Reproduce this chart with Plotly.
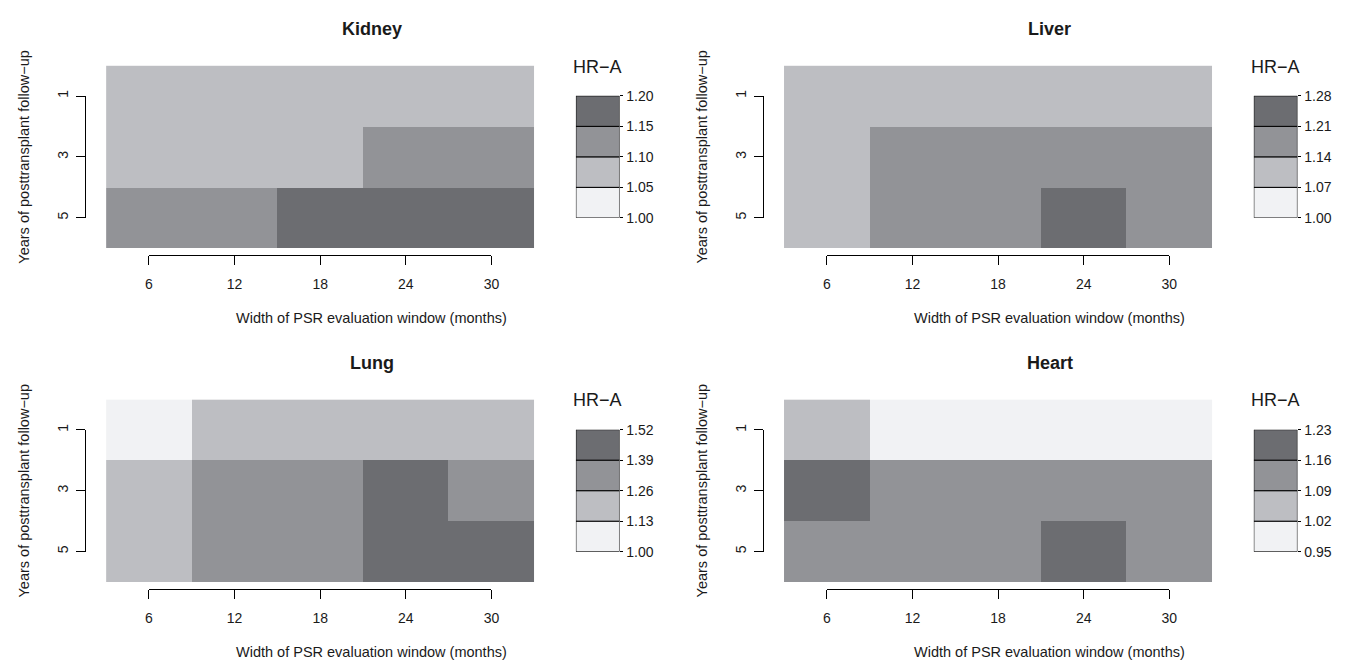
import plotly.graph_objects as go

# ---------------- data ----------------
months = [6, 12, 18, 24, 30]
years = [1, 3, 5]
month_labels = ["6", "12", "18", "24", "30"]
year_labels = ["1", "3", "5"]

organs = ["Kidney", "Liver", "Lung", "Heart"]

kidney_hr = [
    [1.07, 1.08, 1.08, 1.09, 1.08],
    [1.07, 1.08, 1.09, 1.12, 1.13],
    [1.12, 1.14, 1.17, 1.18, 1.19],
]
liver_hr = [
    [1.10, 1.11, 1.12, 1.12, 1.12],
    [1.12, 1.16, 1.17, 1.18, 1.18],
    [1.13, 1.18, 1.19, 1.23, 1.20],
]
lung_hr = [
    [1.05, 1.18, 1.20, 1.20, 1.22],
    [1.20, 1.30, 1.33, 1.45, 1.36],
    [1.22, 1.32, 1.35, 1.48, 1.42],
]
heart_hr = [
    [1.05, 0.99, 0.98, 0.98, 0.99],
    [1.18, 1.12, 1.13, 1.14, 1.14],
    [1.12, 1.13, 1.14, 1.19, 1.15],
]

kidney_breaks = [1.00, 1.05, 1.10, 1.15, 1.20]
liver_breaks = [1.00, 1.07, 1.14, 1.21, 1.28]
lung_breaks = [1.00, 1.13, 1.26, 1.39, 1.52]
heart_breaks = [0.95, 1.02, 1.09, 1.16, 1.23]

palette = ["#F1F2F4", "#BDBEC2", "#929397", "#6C6D71"]

x_title = "Width of PSR evaluation window (months)"
y_title = "Years of posttransplant follow\u2212up"
legend_title = "HR\u2212A"

# ---------------- layout helpers ----------------
W, H = 1352, 669
FONT = "Liberation Sans, Arial, sans-serif"
TXT = "#1a1a1a"

panels = list(zip(organs, [kidney_hr, liver_hr, lung_hr, heart_hr],
                  [kidney_breaks, liver_breaks, lung_breaks, heart_breaks]))

fig = go.Figure()
layout = dict(
    width=W, height=H, autosize=False,
    margin=dict(l=0, r=0, t=0, b=0),
    paper_bgcolor="white", plot_bgcolor="rgba(0,0,0,0)",
    showlegend=False,
    font=dict(family=FONT, color=TXT, size=14),
    annotations=[],
)


def ax_name(kind, k):
    return f"{kind}axis" if k == 1 else f"{kind}axis{k}"


def ref(kind, k):
    return kind if k == 1 else f"{kind}{k}"


HEAT_W, HEAT_H = 432, 187
for i, (name, z, breaks) in enumerate(panels):
    col, row = i % 2, i // 2
    hx0 = [103, 787][col]
    hy0 = [59, 401][row]
    hx1, hy1 = hx0 + HEAT_W, hy0 + HEAT_H
    k = 3 * i + 1
    kt, kl = k + 1, k + 2

    n = len(palette)
    cs = []
    for j, c in enumerate(palette):
        cs.append([j / n, c])
        cs.append([(j + 1) / n, c])

    # heatmap
    fig.add_trace(go.Heatmap(
        x=months, y=years, z=z, zmin=breaks[0], zmax=breaks[-1],
        colorscale=cs, showscale=False, hoverinfo="skip",
        xaxis=ref("x", k), yaxis=ref("y", k)))
    layout[ax_name("x", k)] = dict(domain=[hx0 / W, hx1 / W], range=[3, 33],
                                    visible=False, anchor=ref("y", k))
    layout[ax_name("y", k)] = dict(domain=[1 - hy1 / H, 1 - hy0 / H], range=[6, 0],
                                    visible=False, anchor=ref("x", k))

    # R-style detached axes
    cw = HEAT_W / len(months)
    rh = HEAT_H / len(years)
    fig.add_trace(go.Scatter(
        x=[months[0], months[-1]], y=[years[0], years[-1]], mode="markers",
        marker=dict(opacity=0), hoverinfo="skip",
        xaxis=ref("x", kt), yaxis=ref("y", kt)))
    layout[ax_name("x", kt)] = dict(
        domain=[(hx0 + cw / 2) / W, (hx1 - cw / 2) / W], range=[months[0], months[-1]],
        anchor="free", position=1 - (hy1 + 7) / H,
        tickvals=months, ticktext=month_labels, ticks="outside", ticklen=9,
        tickwidth=1, tickcolor="black", showline=True, linecolor="black",
        linewidth=1, showgrid=False, zeroline=False, ticklabelstandoff=7,
        tickfont=dict(size=14, family=FONT, color=TXT))
    layout[ax_name("y", kt)] = dict(
        domain=[1 - (hy1 - rh / 2) / H, 1 - (hy0 + rh / 2) / H], range=[years[-1], years[0]],
        anchor="free", position=(hx0 - 21) / W, side="left",
        tickvals=years, ticktext=year_labels, tickangle=-90, ticks="outside",
        ticklen=9, tickwidth=1, tickcolor="black", showline=True,
        linecolor="black", linewidth=1, showgrid=False, zeroline=False,
        ticklabelstandoff=3,
        tickfont=dict(size=14, family=FONT, color=TXT))

    # legend (colour key)
    lx0 = hx1 + 42
    lx1 = lx0 + 44
    ly0 = hy0 + 31
    ly1 = ly0 + 125
    fig.add_trace(go.Bar(
        x=[0] * n, base=breaks[:-1],
        y=[breaks[j + 1] - breaks[j] for j in range(n)],
        width=[1] * n, marker=dict(color=palette, line=dict(color="black", width=1)),
        cliponaxis=False, hoverinfo="skip",
        xaxis=ref("x", kl), yaxis=ref("y", kl)))
    layout[ax_name("x", kl)] = dict(domain=[lx0 / W, lx1 / W], range=[-0.5, 0.5],
                                     visible=False, anchor=ref("y", kl))
    layout[ax_name("y", kl)] = dict(
        domain=[1 - ly1 / H, 1 - ly0 / H], range=[breaks[0], breaks[-1]],
        anchor=ref("x", kl), side="right", tickvals=breaks,
        ticktext=[f"{b:.2f}" for b in breaks], ticks="outside", ticklen=3,
        tickwidth=1, tickcolor="black", showline=False, showgrid=False,
        zeroline=False, tickfont=dict(size=14, family=FONT, color=TXT))

    # texts
    title_cx = hx0 + 268
    layout["annotations"] += [
        dict(text=f"<b>{name}</b>", x=title_cx / W, y=1 - (hy0 - 37) / H,
             xref="paper", yref="paper", showarrow=False, xanchor="center",
             yanchor="middle", font=dict(size=18, family=FONT, color=TXT)),
        dict(text=legend_title, x=(lx0 + lx1) / 2 / W, y=1 - (hy0 + 1) / H,
             xref="paper", yref="paper", showarrow=False, xanchor="center",
             yanchor="middle", font=dict(size=18, family=FONT, color=TXT)),
        dict(text=x_title, x=title_cx / W, y=1 - (hy1 + 72) / H,
             xref="paper", yref="paper", showarrow=False, xanchor="center",
             yanchor="middle", font=dict(size=14.5, family=FONT, color=TXT)),
        dict(text=y_title, x=(hx0 - 83) / W, y=1 - (hy0 + hy1) / 2 / H,
             xref="paper", yref="paper", showarrow=False, xanchor="center",
             yanchor="middle", textangle=-90,
             font=dict(size=14.5, family=FONT, color=TXT)),
    ]

fig.update_layout(**layout)
fig.write_html(
    "out.html",
    config={"displayModeBar": False, "staticPlot": True},
    post_script="document.body.style.margin='0';document.body.style.overflow='hidden';",
)
